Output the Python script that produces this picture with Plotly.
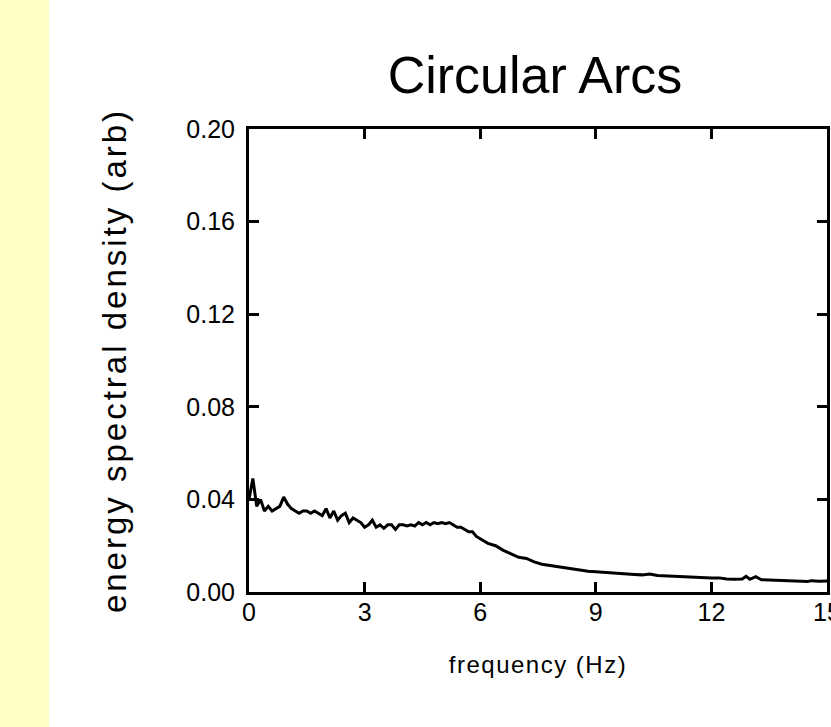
import plotly.graph_objects as go

freq = [0.0, 0.1, 0.2, 0.3, 0.4, 0.5, 0.6, 0.7, 0.8, 0.9,
        1.0, 1.1, 1.2, 1.3, 1.4, 1.5, 1.6, 1.7, 1.8, 1.9,
        2.0, 2.1, 2.2, 2.3, 2.4, 2.5, 2.6, 2.7, 2.8, 2.9,
        3.0, 3.1, 3.2, 3.3, 3.4, 3.5, 3.6, 3.7, 3.8, 3.9,
        4.0, 4.1, 4.2, 4.3, 4.4, 4.5, 4.6, 4.7, 4.8, 4.9,
        5.0, 5.1, 5.2, 5.3, 5.4, 5.5, 5.6, 5.7, 5.8, 5.9,
        6.0, 6.2, 6.4, 6.6, 6.8, 7.0, 7.2, 7.4, 7.6, 7.8,
        8.0, 8.2, 8.4, 8.6, 8.8, 9.0, 9.2, 9.4, 9.6, 9.8,
        10.0, 10.2, 10.4, 10.6, 10.8, 11.0, 11.2, 11.4, 11.6, 11.8,
        12.0, 12.2, 12.4, 12.6, 12.8, 12.9, 13.0, 13.15, 13.3, 13.5,
        13.7, 13.9, 14.1, 14.3, 14.5, 14.6, 14.8, 15.0]

esd = [0.040, 0.049, 0.037, 0.040, 0.035, 0.037, 0.035, 0.036, 0.037, 0.041,
       0.038, 0.036, 0.035, 0.034, 0.035, 0.035, 0.034, 0.035, 0.034, 0.033,
       0.036, 0.032, 0.035, 0.031, 0.033, 0.034, 0.030, 0.032, 0.031, 0.030,
       0.028, 0.029, 0.031, 0.028, 0.029, 0.0275, 0.029, 0.029, 0.027, 0.029,
       0.029, 0.0285, 0.029, 0.0285, 0.030, 0.029, 0.030, 0.029, 0.030, 0.0295,
       0.030, 0.0295, 0.030, 0.029, 0.028, 0.028, 0.027, 0.026, 0.026, 0.024,
       0.023, 0.021, 0.020, 0.018, 0.0165, 0.015, 0.0145, 0.013, 0.012, 0.0115,
       0.011, 0.0102, 0.0098, 0.0095, 0.0090, 0.0088, 0.0085, 0.0082, 0.0080, 0.0078,
       0.0076, 0.0074, 0.0078, 0.0071, 0.0069, 0.0068, 0.0067, 0.0065, 0.0064, 0.0062,
       0.0060, 0.0061, 0.0056, 0.0055, 0.0056, 0.0068, 0.0055, 0.0066, 0.0053, 0.0052,
       0.0051, 0.0048, 0.0046, 0.0045, 0.0045, 0.0049, 0.0046, 0.0047]

x_ticks = [0, 3, 6, 9, 12, 15]
y_ticks = [0.00, 0.04, 0.08, 0.12, 0.16, 0.20]
y_labels = ["0.00", "0.04", "0.08", "0.12", "0.16", "0.20"]

W, H = 831, 727
L, R, T, B = 249, 4, 129, 135
pw = W - L - R
ph = H - T - B

fig = go.Figure()
fig.add_trace(go.Scatter(x=freq, y=esd, mode="lines",
                         line=dict(color="black", width=3), showlegend=False))

font = "Liberation Sans, Arial, sans-serif"

fig.update_layout(
    width=W, height=H, autosize=False,
    margin=dict(l=L, r=R, t=T, b=B, autoexpand=False),
    paper_bgcolor="white", plot_bgcolor="white",
    title=dict(text="Circular Arcs", x=(535 - L) / pw, xref="paper", xanchor="center",
               y=1 - 75 / H, yref="container", yanchor="middle",
               font=dict(family=font, size=52, color="black")),
    shapes=[dict(type="rect", xref="paper", yref="paper",
                 x0=-L / pw, x1=(49 - L) / pw, y0=-B / ph, y1=1 + T / ph,
                 fillcolor="#FFFFC6", line=dict(width=0), layer="below")],
)

fig.update_xaxes(range=[0, 15], tickvals=x_ticks, ticks="inside", ticklen=10, tickwidth=3,
                 tickcolor="black", showline=True, linecolor="black", linewidth=3,
                 mirror="ticks", showgrid=False, zeroline=False, ticklabeloverflow="allow",
                 automargin=False,
                 tickfont=dict(family=font, size=25, color="black"), ticklabelstandoff=-4,
                 title=dict(text='<span style="letter-spacing:1.5px">frequency (Hz)</span>',
                            font=dict(family=font, size=24, color="black"), standoff=32))
fig.update_yaxes(range=[0, 0.2], tickvals=y_ticks, ticktext=y_labels, ticks="inside",
                 ticklen=10, tickwidth=3, tickcolor="black", showline=True, linecolor="black",
                 linewidth=3, mirror="ticks", showgrid=False, zeroline=False, automargin=False,
                 tickfont=dict(family=font, size=25, color="black"), ticklabelstandoff=6,
                 title=dict(text='<span style="letter-spacing:3px">energy spectral density (arb)</span>',
                            font=dict(family=font, size=33, color="black"), standoff=50))

fig.write_html("out.html", config={"displayModeBar": False},
               post_script="document.body.style.margin='0';")
